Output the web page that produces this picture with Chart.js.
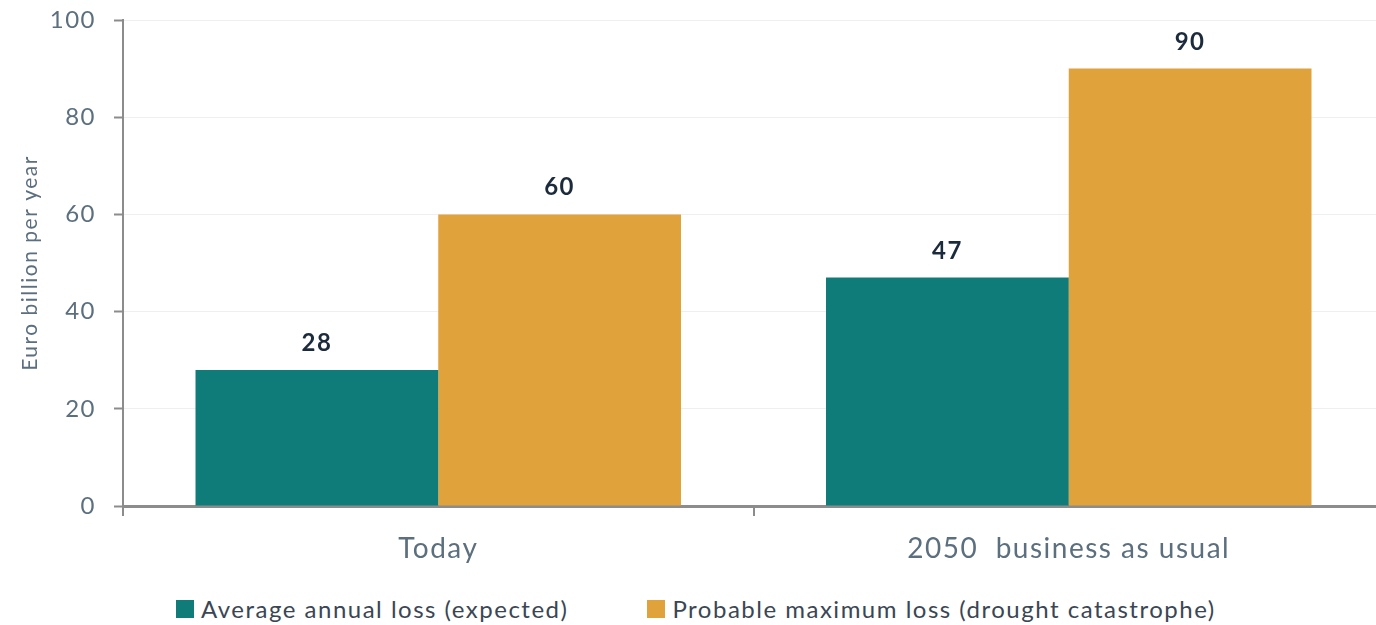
<!DOCTYPE html>
<html lang="en">
<head>
<meta charset="UTF-8">
<title>Drought losses</title>
<script src="https://cdn.jsdelivr.net/npm/chart.js"></script>
<style>
  html, body { margin: 0; padding: 0; background: #fff; overflow: hidden; }
  .wrap { width: 1384px; height: 576px; position: relative; }
  #legend {
    position: absolute; left: 176px; top: 597px; display: flex; gap: 79px;
    font-family: Lato, "Noto Sans", sans-serif; font-size: 24px; letter-spacing: 1.5px;
    color: #3a4654; line-height: 24px; white-space: nowrap;
  }
  #legend .item { display: flex; align-items: center; }
  #legend .box { width: 18px; height: 18px; margin-right: 7px; }
</style>
</head>
<body>
<div class="wrap"><canvas id="chart"></canvas></div>
<div id="legend"></div>
<script>
// categories and series
const categories = ['Today', '2050  business as usual'];
const averageLoss = [28, 47];
const maximumLoss = [60, 90];
const yTicks = [0, 20, 40, 60, 80, 100];

const FONT = 'Lato, "Noto Sans", sans-serif';
const GREY = '#5b6f7f';
const AXIS = '#8c8c8c';

// wider letter spacing, like the original export
const spacing = {
  id: 'spacing',
  beforeLayout(chart) { chart.ctx.letterSpacing = '1.5px'; },
  beforeDraw(chart) { chart.ctx.letterSpacing = '1.5px'; }
};

// value labels above the bars
const barLabels = {
  id: 'barLabels',
  afterDatasetsDraw(chart) {
    const ctx = chart.ctx;
    ctx.save();
    ctx.font = 'bold 24px ' + FONT;
    ctx.fillStyle = '#1c2b3c';
    ctx.textAlign = 'center';
    ctx.textBaseline = 'alphabetic';
    chart.data.datasets.forEach((ds, i) => {
      chart.getDatasetMeta(i).data.forEach((bar, j) => {
        ctx.fillText(ds.data[j], bar.x, bar.y - 19);
      });
    });
    ctx.restore();
  }
};

const chart = new Chart(document.getElementById('chart'), {
  type: 'bar',
  data: {
    labels: categories,
    datasets: [
      { label: 'Average annual loss (expected)', data: averageLoss, backgroundColor: '#107c7a' },
      { label: 'Probable maximum loss (drought catastrophe)', data: maximumLoss, backgroundColor: '#e0a23b' }
    ]
  },
  options: {
    responsive: true,
    maintainAspectRatio: false,
    animation: false,
    categoryPercentage: 0.77,
    barPercentage: 1,
    layout: { padding: { top: 20, left: 0, right: 0, bottom: 0 } },
    plugins: {
      tooltip: { enabled: false },
      legend: { display: false }
    },
    scales: {
      x: {
        afterFit(axis) { axis.height = 70; },
        grid: { offset: true, drawOnChartArea: false, drawTicks: true, tickLength: 10, color: AXIS, lineWidth: 2 },
        border: { color: AXIS, width: 3 },
        ticks: { font: { family: FONT, size: 28 }, color: GREY, padding: 16 }
      },
      y: {
        min: 0,
        max: 100,
        afterBuildTicks(axis) { axis.ticks = yTicks.map(v => ({ value: v })); },
        afterFit(axis) { axis.width = 123; axis.paddingTop = 0; axis.paddingBottom = 0; },
        grid: { color: '#efefef', lineWidth: 1, tickColor: AXIS, tickLength: 9, tickWidth: 2 },
        border: { color: AXIS, width: 2 },
        ticks: { font: { family: FONT, size: 24 }, color: GREY, padding: 18 },
        title: { display: true, text: 'Euro billion per year', font: { family: FONT, size: 21 }, color: GREY, padding: { top: 18, bottom: 0 } }
      }
    }
  },
  plugins: [spacing, barLabels]
});

// html legend built from the chart's own legend items
const legendEl = document.getElementById('legend');
chart.options.plugins.legend.labels.generateLabels(chart).forEach(item => {
  const el = document.createElement('div');
  el.className = 'item';
  el.innerHTML = '<span class="box" style="background:' + item.fillStyle + '"></span><span>' + item.text + '</span>';
  legendEl.appendChild(el);
});
</script>
</body>
</html>
